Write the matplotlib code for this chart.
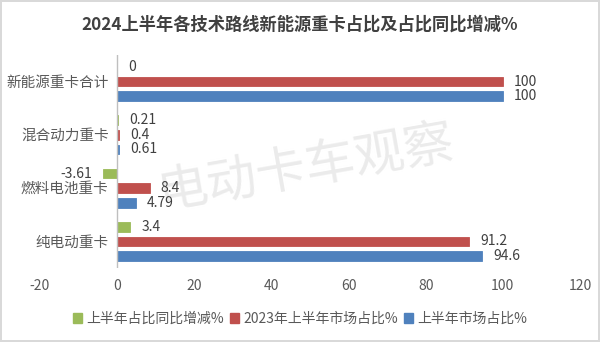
import matplotlib
matplotlib.use("Agg")
import matplotlib.pyplot as plt
import numpy as np
from matplotlib.patches import Patch

plt.rcParams['font.family'] = ['Noto Sans CJK SC', 'DejaVu Sans']

categories = ["纯电动重卡", "燃料电池重卡", "混合动力重卡", "新能源重卡合计"]
series_names = ["上半年占比同比增减%", "2023年上半年市场占比%", "上半年市场占比%"]
change_pct = [3.4, -3.61, 0.21, 0]
share_2023 = [91.2, 8.4, 0.4, 100]
share_2024 = [94.6, 4.79, 0.61, 100]
value_labels = [["3.4", "-3.61", "0.21", "0"],
                ["91.2", "8.4", "0.4", "100"],
                ["94.6", "4.79", "0.61", "100"]]
x_ticks = [-20, 0, 20, 40, 60, 80, 100, 120]
colors = ["#9BBB59", "#C0504D", "#4F81BD"]
title = "2024上半年各技术路线新能源重卡占比及占比同比增减%"
watermark = "电动卡车观察"

fig = plt.figure(figsize=(6.0, 3.42), dpi=100)
fig.patch.set_facecolor("white")
fig.patch.set_edgecolor("#d9d9d9")
fig.patch.set_linewidth(1.5)

ax = fig.add_axes([40 / 600, 1 - 268 / 342, (580 - 40) / 600, (268 - 55) / 342])
ax.patch.set_alpha(0)

# faint watermark behind the bars
ax.text(0.493, 0.47, watermark, transform=ax.transAxes, ha="center", va="center",
        fontsize=36, color="#ebebeb", rotation=10, rotation_mode="anchor",
        zorder=1)

y = np.arange(len(categories))
bar_h = 0.18
offsets = [0.274, 0.0, -0.274]
series = [change_pct, share_2023, share_2024]

for vals, off, col, labels in zip(series, offsets, colors, value_labels):
    bars = ax.barh(y + off, vals, height=bar_h, color=col, edgecolor=col,
                   linewidth=0.6, zorder=3)
    for b, v, lab in zip(bars, vals, labels):
        if v < 0:
            ax.annotate(lab, (v, b.get_y() + b.get_height() / 2),
                        xytext=(-8, 0), textcoords="offset points",
                        ha="right", va="center", fontsize=10, color="#404040",
                        zorder=5)
        else:
            ax.annotate(lab, (v, b.get_y() + b.get_height() / 2),
                        xytext=(8, 0), textcoords="offset points",
                        ha="left", va="center", fontsize=10, color="#404040",
                        zorder=5)

ax.set_xlim(-20, 120)
ax.set_ylim(-0.5, 3.5)
ax.set_xticks(x_ticks)
ax.set_xticklabels([str(t) for t in x_ticks], fontsize=10, color="#595959")
ax.set_yticks([])
ax.tick_params(axis="both", length=0)
ax.tick_params(axis="x", pad=8)

for s in ["top", "right", "bottom", "left"]:
    ax.spines[s].set_visible(False)
ax.axvline(0, color="#bfbfbf", linewidth=1.0, zorder=4)

# category names sit just left of the zero line
for yi, name in zip(y, categories):
    ax.text(-2.2, yi - 0.02, name, ha="right", va="center", fontsize=10.5,
            color="#595959", zorder=5)

fig.text(0.5, 1 - 25 / 342, title, ha="center", va="center", fontsize=12.4,
         fontweight="bold", color="#404040")

handles = [Patch(facecolor=c, edgecolor=c) for c in colors]
fig.legend(handles, series_names, loc="center", bbox_to_anchor=(0.5, 1 - 319 / 342),
           ncol=3, frameon=False, fontsize=10, handlelength=0.7, handleheight=0.7,
           handletextpad=0.3, columnspacing=0.4, labelcolor="#595959")

fig.savefig("out.png", dpi=100)
